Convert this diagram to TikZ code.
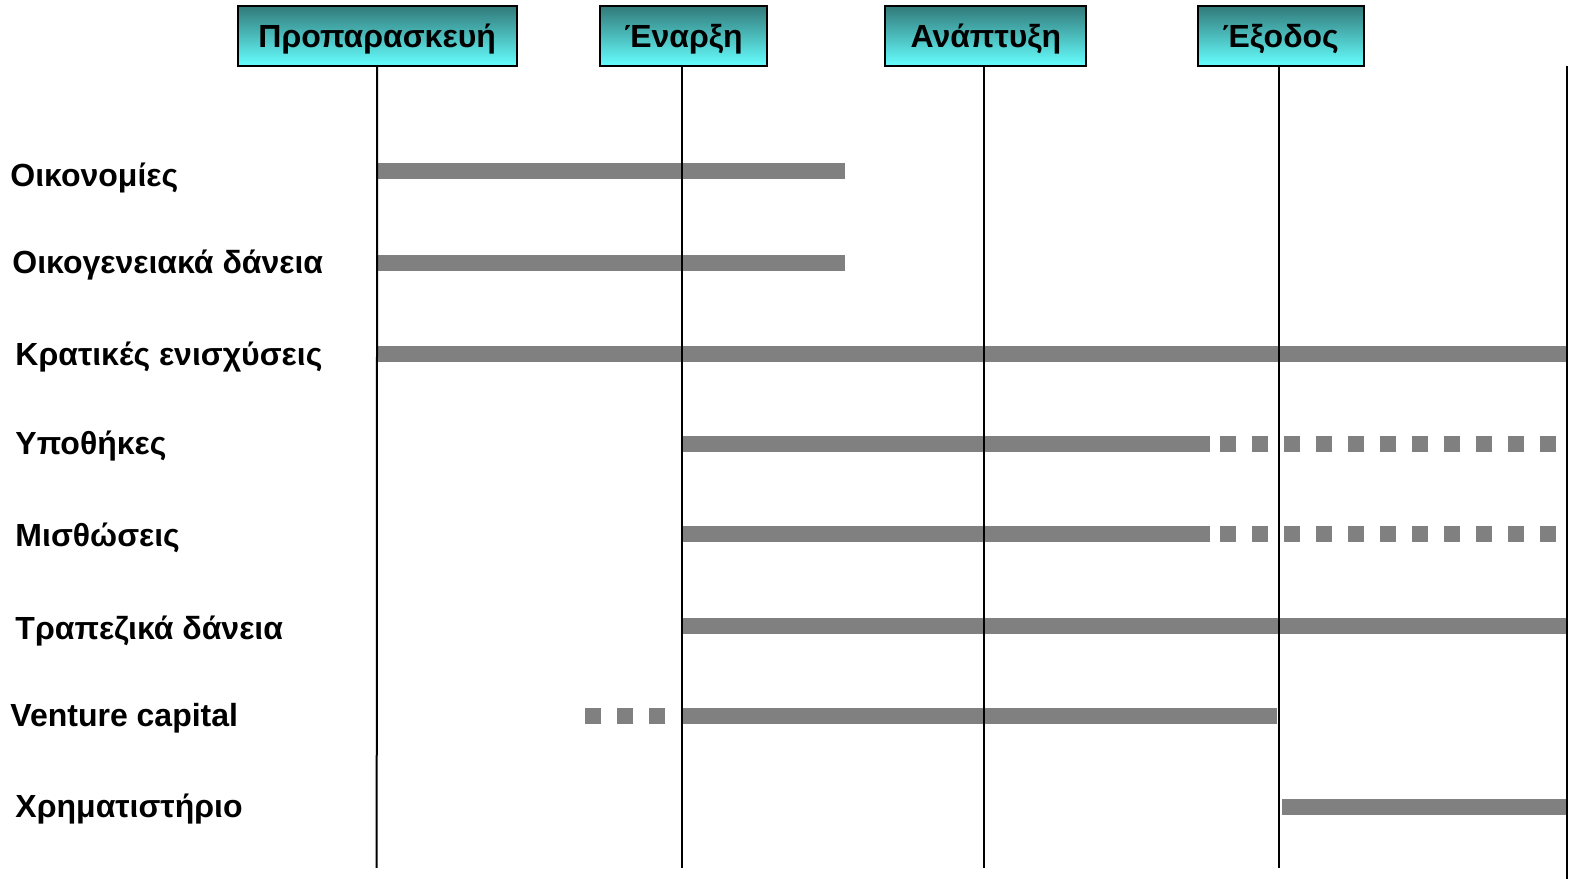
\documentclass[tikz,border=0pt]{standalone}
\usepackage{fontspec}
\setmainfont{Liberation Sans}
\definecolor{tealtop}{RGB}{50,122,122}
\definecolor{cyanbot}{RGB}{102,255,255}
\definecolor{barcol}{RGB}{128,128,128}
\begin{document}
\begin{tikzpicture}[x=0.50223pt,y=-0.50223pt,
  phase/.style={draw=black, line width=1pt, top color=tealtop, bottom color=cyanbot,
    minimum height=30pt, inner sep=0pt, text height=14.4pt, text depth=3pt,
    font=\fontsize{16}{18}\selectfont\bfseries},
  rowlabel/.style={anchor=west, inner sep=0pt, font=\fontsize{16}{18}\selectfont\bfseries},
  vline/.style={line width=1pt, draw=black},
  bar/.style={line width=8pt, draw=barcol},
  dotbar/.style={line width=8pt, draw=barcol, dash pattern=on 8pt off 8pt}]
\useasboundingbox (0,0) rectangle (1568,875);
\fill[white] (0,0) rectangle (1568,875);

% phase boxes
\node[phase, minimum width=139.5pt] (p1) at (375.5,36) {Προπαρασκευή};
\node[phase, minimum width=83.5pt] (p2) at (680.5,36) {Έναρξη};
\node[phase, minimum width=100.5pt] (p3) at (981.5,36) {Ανάπτυξη};
\node[phase, minimum width=83pt] (p4) at (1275,36) {Έξοδος};

% bottom coordinates
\coordinate (b1) at (375,864);
\coordinate (b2) at (679,864);
\coordinate (b3) at (980,864);
\coordinate (b4) at (1273,864);
\coordinate (t5) at (1560,66);
\coordinate (b5) at (1560,875);

% bars (behind vertical lines)
\draw[bar] (375,170) -- (841,170);
\draw[bar] (375,262) -- (841,262);
\draw[bar] (375,352) -- (1560,352);
\draw[bar] (679,442) -- (1205,442);
\draw[dotbar] (1214.6,442) -- (1549,442);
\draw[bar] (679,532) -- (1205,532);
\draw[dotbar] (1214.6,532) -- (1549,532);
\draw[bar] (679,623) -- (1560,623);
\draw[dotbar] (582.4,713) -- (662,713);
\draw[bar] (679,713) -- (1271,713);
\draw[bar] (1276,803) -- (1560,803);

% vertical lines
\draw[vline] (p1.south) -- (b1);
\draw[vline] (p2.south -| b2) -- (b2);
\draw[vline] (p3.south -| b3) -- (b3);
\draw[vline] (p4.south -| b4) -- (b4);
\draw[vline] (t5) -- (b5);

% row labels
\node[rowlabel] (l1) at (10,177) {Οικονομίες};
\node[rowlabel] (l2) at (12,264) {Οικογενειακά δάνεια};
\node[rowlabel] (l3) at (15,355) {Κρατικές ενισχύσεις};
\node[rowlabel] (l4) at (15,444) {Υποθήκες};
\node[rowlabel] (l5) at (15,535) {Μισθώσεις};
\node[rowlabel] (l6) at (15,628) {Τραπεζικά δάνεια};
\node[rowlabel] (l7) at (10,715) {Venture capital};
\node[rowlabel] (l8) at (15,805) {Χρηματιστήριο};
\end{tikzpicture}
\end{document}
